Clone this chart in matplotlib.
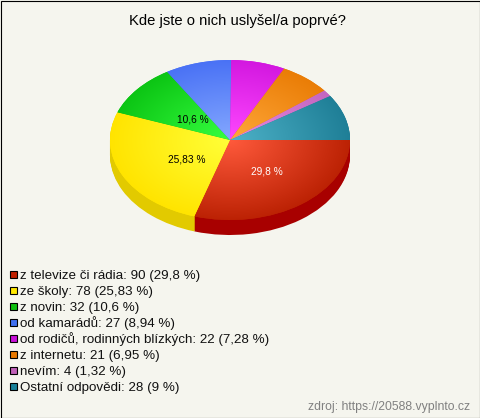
import numpy as np
import matplotlib
matplotlib.use('Agg')
import matplotlib.pyplot as plt
from matplotlib.patches import Rectangle

plt.rcParams['font.family'] = ['Liberation Sans', 'DejaVu Sans']

# Data
title = 'Kde jste o nich uslyšel/a poprvé?'
categories = ['z televize či rádia', 'ze školy', 'z novin', 'od kamarádů',
              'od rodičů, rodinných blízkých', 'z internetu', 'nevím',
              'Ostatní odpovědi']
values = [90, 78, 32, 27, 22, 21, 4, 28]
percents = ['29,8', '25,83', '10,6', '8,94', '7,28', '6,95', '1,32', '9']
source = 'zdroj: https://20588.vyplnto.cz'

# Colours: legend/edge, centre of the gradient, side of the pie
edge_colors = ['#bc2204', '#ffe400', '#0cc514', '#4a72f5', '#d318e0', '#ea7d06', '#c466c0', '#1f7f97']
center_colors = ['#ff5a3c', '#ffff38', '#36ff40', '#84a8ff', '#ff48ff', '#ffa83a', '#e88ae0', '#4eb2c8']
side_colors = ['#a80000', '#e2ca00', '#0a9a10', '#3a58c0', '#a010b0', '#b86004', '#9a5096', '#186478']
legend_colors = ['#c02000', '#ffe800', '#10c010', '#4070f0', '#c810d8', '#e87800', '#c060b8', '#188098']

W, H = 480, 418
BG = '#f5f5ee'
CX, CY, RX, RY, DEPTH = 230, 140, 120, 80, 15

fig = plt.figure(figsize=(W / 100, H / 100), dpi=100, facecolor=BG)

# Pie axes: one data unit is RX px across and RY px down, which squashes the circle
ax = fig.add_axes([0, 0, 1, 1])


def set_view():
    ax.set_aspect('auto')
    ax.set_xlim(-CX / RX, (W - CX) / RX)
    ax.set_ylim(-(H - CY) / RY, CY / RY)
    ax.axis('off')


# Side of the pie, stacked copies going up
for d in range(DEPTH, 0, -1):
    ax.pie(values, colors=side_colors, startangle=0, counterclock=False,
           center=(0, -d / RY), radius=1)

# Top face with a radial gradient per slice
wedges, _ = ax.pie(values, colors=edge_colors, startangle=0, counterclock=False,
                   center=(0, 0), radius=1)
yy, xx = np.mgrid[-1:1:400j, -1:1:400j]
rr = np.clip(np.sqrt(xx ** 2 + yy ** 2), 0, 1)[..., None]
for wedge, c0, c1 in zip(wedges, center_colors, edge_colors):
    inner = np.array(matplotlib.colors.to_rgb(c0))
    outer = np.array(matplotlib.colors.to_rgb(c1))
    img = inner + (outer - inner) * rr
    im = ax.imshow(img, extent=(-1, 1, -1, 1), origin='lower', aspect='auto',
                   interpolation='bilinear', zorder=wedge.get_zorder() + 0.5)
    im.set_clip_path(wedge)
set_view()

# Overlay in pixel coordinates for the texts
ov = fig.add_axes([0, 0, 1, 1], facecolor='none')
ov.set_xlim(0, W)
ov.set_ylim(H, 0)
ov.axis('off')

ov.text(237.5, 21, title, ha='center', va='center', fontsize=10.6, color='black')

ov.text(267, 171, percents[0] + ' %', ha='center', va='center', fontsize=7.3, color='white')
ov.text(187, 159, percents[1] + ' %', ha='center', va='center', fontsize=7.3, color='black')
ov.text(193, 120, percents[2] + ' %', ha='center', va='center', fontsize=7.3, color='black')

for i, (cat, val, pct) in enumerate(zip(categories, values, percents)):
    y = 279 + i * 16
    ov.add_patch(Rectangle((9.5, y - 8), 7, 7, facecolor=legend_colors[i],
                           edgecolor='black', linewidth=0.8))
    ov.text(20, y, f'{cat}: {val} ({pct} %)', ha='left', va='baseline',
            fontsize=9.6, color='#111111')

ov.text(470, 410, source, ha='right', va='baseline', fontsize=8.8, color='#808080')

ov.add_patch(Rectangle((0.5, 0.5), W - 1, H - 1, fill=False, edgecolor='black', linewidth=0.8))

fig.savefig('out.png', dpi=100, facecolor=BG)
